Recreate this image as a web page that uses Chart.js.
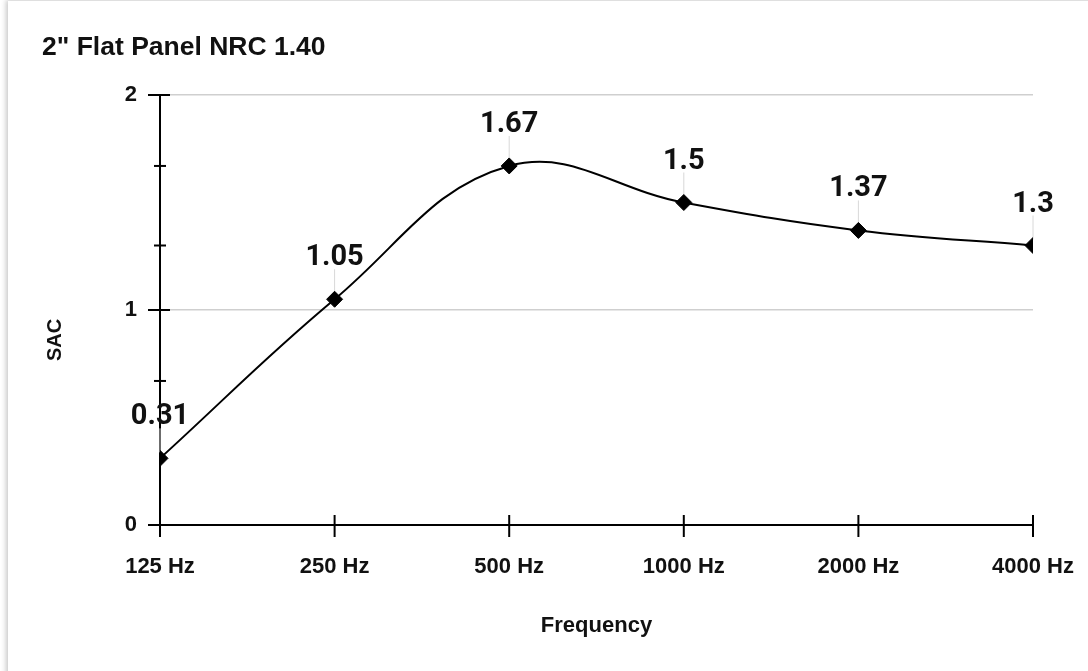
<!DOCTYPE html>
<html>
<head>
<meta charset="utf-8">
<title>2" Flat Panel NRC 1.40</title>
<script src="https://cdn.jsdelivr.net/npm/chart.js@4.4.1/dist/chart.umd.min.js"></script>
<style>
  html, body { margin: 0; padding: 0; background: #fff; overflow: hidden; }
  .card {
    position: absolute; left: 8px; top: 1px; width: 1200px; height: 800px;
    background: #fff; box-shadow: -2px -1px 5px rgba(0, 0, 0, 0.22);
  }
  .wrap { position: absolute; left: 0; top: 0; width: 1088px; height: 671px; }
</style>
</head>
<body>
<div class="card"></div>
<div class="wrap"><canvas id="sac-chart"></canvas></div>
<script>
// ─── Data ─────────────────────────────────────────────────────────────────────
const frequencies = ['125 Hz', '250 Hz', '500 Hz', '1000 Hz', '2000 Hz', '4000 Hz'];
const sacValues = [0.31, 1.05, 1.67, 1.5, 1.37, 1.3];
const majorTicks = [0, 1, 2];
const minorTicks = [0.67, 1.3, 1.67];

const chartTitle = '2" Flat Panel NRC 1.40';
const xTitle = 'Frequency';
const yTitle = 'SAC';

const LABEL_FONT = '"Liberation Sans", Arial, sans-serif';
const VALUE_FONT = 'Roboto, "Liberation Sans", sans-serif';

// Tick marks that cross the axes, value labels, and the rotated y title
const axisMarks = {
  id: 'axisMarks',
  beforeDatasetsDraw(chart) {
    const { ctx, chartArea, scales: { x, y } } = chart;
    ctx.save();
    ctx.strokeStyle = '#000';
    ctx.lineWidth = 2;
    const line = (x1, y1, x2, y2) => {
      ctx.beginPath(); ctx.moveTo(x1, y1); ctx.lineTo(x2, y2); ctx.stroke();
    };
    majorTicks.forEach(v => {
      const py = y.getPixelForValue(v);
      line(chartArea.left - 12, py, chartArea.left + 10, py);
    });
    minorTicks.forEach(v => {
      const py = y.getPixelForValue(v);
      line(chartArea.left - 6, py, chartArea.left + 6, py);
    });
    frequencies.forEach((_, i) => {
      const px = x.getPixelForValue(i);
      line(px, chartArea.bottom - 10, px, chartArea.bottom + 12);
    });

    // leader lines under the value labels
    const meta = chart.getDatasetMeta(0);
    ctx.strokeStyle = '#d8d8d8';
    ctx.lineWidth = 1;
    meta.data.forEach(pt => line(pt.x, pt.y - 6, pt.x, pt.y - 30));
    ctx.restore();
  },
  afterDatasetsDraw(chart) {
    const { ctx } = chart;
    const meta = chart.getDatasetMeta(0);
    ctx.save();
    ctx.fillStyle = '#111';
    ctx.font = `bold 29px ${VALUE_FONT}`;
    ctx.textAlign = 'center';
    ctx.textBaseline = 'alphabetic';
    meta.data.forEach((pt, i) => ctx.fillText(String(sacValues[i]), pt.x, pt.y - 34));
    ctx.restore();
  },
  afterDraw(chart) {
    const { ctx } = chart;
    ctx.save();
    ctx.translate(55, 340);
    ctx.rotate(-Math.PI / 2);
    ctx.fillStyle = '#111';
    ctx.font = `bold 20px ${LABEL_FONT}`;
    ctx.textAlign = 'center';
    ctx.textBaseline = 'middle';
    ctx.fillText(yTitle, 0, 0);
    ctx.restore();
  },
};

const ctx = document.getElementById('sac-chart').getContext('2d');

new Chart(ctx, {
  type: 'line',
  data: {
    labels: frequencies,
    datasets: [{
      label: yTitle,
      data: sacValues,
      borderColor: '#000',
      borderWidth: 2,
      tension: 0.4,
      clip: 0,
      pointStyle: 'rectRot',
      pointRadius: 8,
      pointBackgroundColor: '#000',
      pointBorderColor: '#000',
      pointBorderWidth: 1,
      fill: false,
    }],
  },
  options: {
    responsive: true,
    maintainAspectRatio: false,
    animation: false,
    layout: { padding: { top: 0, left: 42, right: 55, bottom: 28 } },
    plugins: {
      legend: { display: false },
      tooltip: { enabled: false },
      title: {
        display: true,
        text: chartTitle,
        align: 'start',
        color: '#111',
        font: { family: LABEL_FONT, size: 26.5, weight: 'bold' },
        padding: { top: 32, bottom: 31.2 },
      },
    },
    scales: {
      x: {
        offset: false,
        grid: { display: false },
        border: { display: true, color: '#000', width: 2 },
        ticks: {
          color: '#111',
          padding: 21,
          maxRotation: 0,
          font: { family: LABEL_FONT, size: 22, weight: 'bold' },
        },
        title: {
          display: true,
          text: xTitle,
          color: '#111',
          font: { family: LABEL_FONT, size: 22, weight: 'bold' },
          padding: { top: 4, bottom: 4 },
        },
        afterFit(scale) {
          scale.height = 118;
          scale.paddingLeft = 0;
          scale.paddingRight = 0;
        },
      },
      y: {
        min: 0,
        max: 2,
        afterBuildTicks(scale) { scale.ticks = majorTicks.map(v => ({ value: v })); },
        grid: {
          drawTicks: false,
          lineWidth: 1.5,
          color: (c) => (c.tick && c.tick.value > 0 ? '#cfcfcf' : 'rgba(0,0,0,0)'),
        },
        border: { display: true, color: '#000', width: 2 },
        ticks: {
          color: '#111',
          padding: 23,
          font: { family: LABEL_FONT, size: 22, weight: 'bold' },
        },
        afterFit(scale) { scale.width = 118; },
      },
    },
  },
  plugins: [axisMarks],
});
</script>
</body>
</html>
